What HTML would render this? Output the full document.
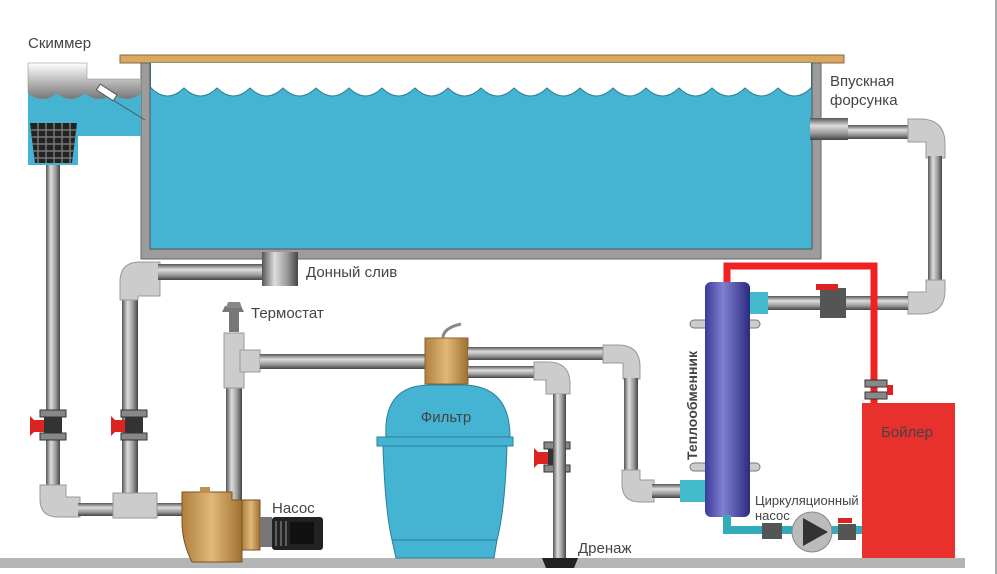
<!DOCTYPE html>
<html><head><meta charset="utf-8"><style>
body{margin:0;background:#fff}
svg{display:block}
text{font-family:"Liberation Sans",sans-serif;fill:#444}
</style></head><body>
<svg width="997" height="574" viewBox="0 0 997 574" xmlns="http://www.w3.org/2000/svg">
<defs>
<linearGradient id="pv" x1="0" x2="1"><stop offset="0" stop-color="#555"/><stop offset=".35" stop-color="#ddd"/><stop offset=".7" stop-color="#999"/><stop offset="1" stop-color="#444"/></linearGradient>
<linearGradient id="ph" x1="0" y1="0" x2="0" y2="1"><stop offset="0" stop-color="#555"/><stop offset=".35" stop-color="#ddd"/><stop offset=".7" stop-color="#999"/><stop offset="1" stop-color="#444"/></linearGradient>
<linearGradient id="hx" x1="0" x2="1"><stop offset="0" stop-color="#3a3a9a"/><stop offset=".4" stop-color="#8080d0"/><stop offset="1" stop-color="#2a2a80"/></linearGradient>
<linearGradient id="sk" x1="0" y1="0" x2="0" y2="1"><stop offset="0" stop-color="#fff"/><stop offset="1" stop-color="#777"/></linearGradient>
<linearGradient id="br" x1="0" x2="1"><stop offset="0" stop-color="#b08040"/><stop offset=".5" stop-color="#e0b878"/><stop offset="1" stop-color="#a07030"/></linearGradient>
</defs>
<rect x="995" y="0" width="2" height="574" fill="#aaa"/>
<!-- floor -->
<rect x="0" y="558" width="965" height="10" fill="#b5b5b5"/>
<!-- pool -->
<rect x="120" y="55" width="724" height="8" fill="#d9a75f" stroke="#8a6a3a" stroke-width="1"/>
<rect x="141" y="63" width="680" height="196" fill="#9c9c9c" stroke="#666"/>
<rect x="150" y="63" width="662" height="186" fill="#45b4d3" stroke="#555"/>
<path d="M151 88 q16.5 16 33 0 q16.5 16 33 0 q16.5 16 33 0 q16.5 16 33 0 q16.5 16 33 0 q16.5 16 33 0 q16.5 16 33 0 q16.5 16 33 0 q16.5 16 33 0 q16.5 16 33 0 q16.5 16 33 0 q16.5 16 33 0 q16.5 16 33 0 q16.5 16 33 0 q16.5 16 33 0 q16.5 16 33 0 q16.5 16 33 0 q16.5 16 33 0 q16.5 16 33 0 q16.5 16 33 0 L811 63 L151 63Z" fill="#fff" stroke="#2f7f99"/>
<rect x="151" y="63" width="660" height="24" fill="#fff"/>
<!-- skimmer -->
<rect x="28" y="88" width="113" height="48" fill="#45b4d3"/>
<path d="M28 63 H87 V79 H141 V93 q-15 12 -28 0 q-14 12 -28 0 q-14 12 -28 0 q-14 12 -29 0Z" fill="url(#sk)" stroke="#888" stroke-width=".5"/>
<line x1="100" y1="92" x2="145" y2="120" stroke="#555"/>
<rect x="97" y="89" width="20" height="7" fill="#fff" stroke="#555" transform="rotate(33 107 92)"/>
<rect x="28" y="123" width="50" height="42" fill="#45b4d3"/>
<path d="M30 123 H77 L72 163 H35Z" fill="#222"/>
<path d="M30 130H77M31 137H76M32 144H75M33 151H74M34 158H73M38 123V163M46 123V163M54 123V163M62 123V163M70 123V163" stroke="#777" stroke-width="1.5"/>
<text x="28" y="48" font-size="15">Скиммер</text>
<!-- left pipes -->
<rect x="46" y="165" width="14" height="335" fill="url(#pv)"/>
<path d="M40 485 h26 v12 h14 v20 h-22 q-18 0 -18 -18Z" fill="#ccc" stroke="#999"/>
<rect x="78" y="503" width="105" height="13" fill="url(#ph)"/>
<rect x="122" y="290" width="16" height="210" fill="url(#pv)"/>
<path d="M120 300 v-18 q0 -20 20 -20 h20 v34 h-22 v4Z" fill="#ccc" stroke="#999"/>
<rect x="158" y="264" width="105" height="16" fill="url(#ph)"/>
<rect x="262" y="252" width="36" height="34" fill="url(#pv)"/>
<rect x="113" y="493" width="44" height="25" fill="#ccc" stroke="#999"/>
<text x="306" y="277" font-size="15">Донный слив</text>
<!-- valves on left -->
<g id="v1"><rect x="40" y="410" width="26" height="7" fill="#888" stroke="#333"/><rect x="40" y="433" width="26" height="7" fill="#888" stroke="#333"/><rect x="44" y="417" width="18" height="16" fill="#333"/><path d="M44 420 H34 L30 416 V436 L34 432 H44Z" fill="#d22"/></g>
<use href="#v1" x="81"/>
<use href="#v1" x="504" y="32"/>
<!-- thermostat -->
<rect x="226" y="370" width="16" height="130" fill="url(#pv)"/>
<rect x="224" y="333" width="20" height="55" fill="#ccc" stroke="#999"/>
<rect x="240" y="350" width="20" height="22" fill="#ccc" stroke="#999"/>
<path d="M222 312 h22 l-3 -6 h-16Z M229 312 h10 v20 h-10Z" fill="#777"/>
<path d="M228 302 h12 l2 6 h-16Z" fill="#888"/>
<text x="251" y="318" font-size="15">Термостат</text>
<rect x="260" y="354" width="170" height="15" fill="url(#ph)"/>
<!-- filter -->
<path d="M386 437 Q383 385 430 385 H462 Q510 385 510 437Z" fill="#45b4d3" stroke="#2a7f99"/>
<rect x="377" y="437" width="136" height="9" fill="#45b4d3" stroke="#2a7f99"/>
<path d="M383 446 H507 Q505 510 497 540 H392 Q385 510 383 446Z" fill="#45b4d3" stroke="#2a7f99"/>
<path d="M392 540 H497 L494 558 H396Z" fill="#45b4d3" stroke="#2a7f99"/>
<text x="446" y="422" font-size="15" text-anchor="middle" fill="#222">Фильтр</text>
<rect x="425" y="338" width="43" height="46" fill="url(#br)" stroke="#8a6030"/>
<path d="M443 338 q0 -10 18 -14" stroke="#888" stroke-width="3" fill="none"/>
<rect x="468" y="347" width="137" height="13" fill="url(#ph)"/>
<rect x="468" y="366" width="70" height="12" fill="url(#ph)"/>
<path d="M534 362 h14 q22 0 22 22 v10 h-24 v-14 h-12Z" fill="#ccc" stroke="#999"/>
<rect x="553" y="394" width="13" height="164" fill="url(#pv)"/>
<path d="M542 558 h36 l-4 10 h-28Z" fill="#222"/>
<text x="578" y="553" font-size="15">Дренаж</text>
<path d="M603 345 h15 q22 0 22 22 v12 h-17 v-16 h-20Z" fill="#ccc" stroke="#999"/>
<rect x="624" y="378" width="14" height="92" fill="url(#pv)"/>
<path d="M622 470 h18 v10 h14 v22 h-14 q-18 0 -18 -18Z" fill="#ccc" stroke="#999"/>
<rect x="652" y="484" width="30" height="14" fill="url(#ph)"/>
<!-- pump -->
<path d="M182 492 h50 v8 h10 v62 h-50 q-10 -20 -10 -40Z" fill="url(#br)" stroke="#7a5020"/>
<rect x="200" y="487" width="10" height="6" fill="#c09050"/>
<rect x="242" y="500" width="18" height="50" fill="url(#br)" stroke="#7a5020"/>
<rect x="260" y="517" width="12" height="30" fill="#777"/>
<rect x="272" y="517" width="51" height="33" rx="3" fill="#222"/>
<path d="M276 521v25M281 521v25M286 521v25" stroke="#999"/>
<rect x="290" y="522" width="24" height="22" fill="#111"/>
<text x="272" y="513" font-size="15">Насос</text>
<!-- right pipes -->
<rect x="848" y="125" width="62" height="14" fill="url(#ph)"/>
<rect x="810" y="118" width="38" height="22" fill="url(#ph)"/>
<path d="M908 119 h12 q25 0 25 25 v14 h-19 v-16 h-18Z" fill="#ccc" stroke="#999"/>
<rect x="928" y="156" width="14" height="126" fill="url(#pv)"/>
<path d="M926 280 h19 v10 q0 24 -24 24 h-13 v-22 h18Z" fill="#ccc" stroke="#999"/>
<rect x="765" y="296" width="143" height="14" fill="url(#ph)"/>
<text x="830" y="86" font-size="15">Впускная</text>
<text x="830" y="105" font-size="15">форсунка</text>
<!-- red loop -->
<path d="M727 282 V266 H874 V405" stroke="#e22" stroke-width="7" fill="none"/>
<!-- heat exchanger -->
<rect x="750" y="292" width="18" height="22" fill="#4bc"/>
<rect x="680" y="480" width="25" height="22" fill="#4bc"/>
<rect x="690" y="320" width="70" height="8" rx="4" fill="#ccc" stroke="#777"/>
<rect x="690" y="463" width="70" height="8" rx="4" fill="#ccc" stroke="#777"/>
<rect x="705" y="282" width="45" height="235" rx="6" fill="url(#hx)"/>
<text transform="translate(697 460) rotate(-90)" font-size="14" font-weight="bold" fill="#333">Теплообменник</text>
<rect x="820" y="288" width="26" height="30" fill="#555"/>
<rect x="816" y="284" width="22" height="6" fill="#d22"/>
<!-- boiler -->
<rect x="865" y="380" width="22" height="7" fill="#888" stroke="#333"/><rect x="865" y="392" width="22" height="7" fill="#888" stroke="#333"/>
<path d="M887 385 h6 v10 h-6Z" fill="#d22"/>
<rect x="862" y="403" width="93" height="155" fill="#e8302c"/>
<text x="907" y="437" font-size="15" text-anchor="middle" fill="#a02020">Бойлер</text>
<!-- circ pump -->
<path d="M727 515 V530 H862" stroke="#3ab" stroke-width="8" fill="none"/>
<rect x="762" y="523" width="20" height="16" fill="#555"/>
<circle cx="812" cy="532" r="20" fill="#bbb" stroke="#888"/>
<path d="M803 518 L828 532 L803 546Z" fill="#333"/>
<rect x="838" y="524" width="18" height="16" fill="#555"/>
<rect x="838" y="518" width="14" height="5" fill="#d22"/>
<text x="755" y="505" font-size="13">Циркуляционный</text>
<text x="755" y="520" font-size="13">насос</text>
</svg>
</body></html>
